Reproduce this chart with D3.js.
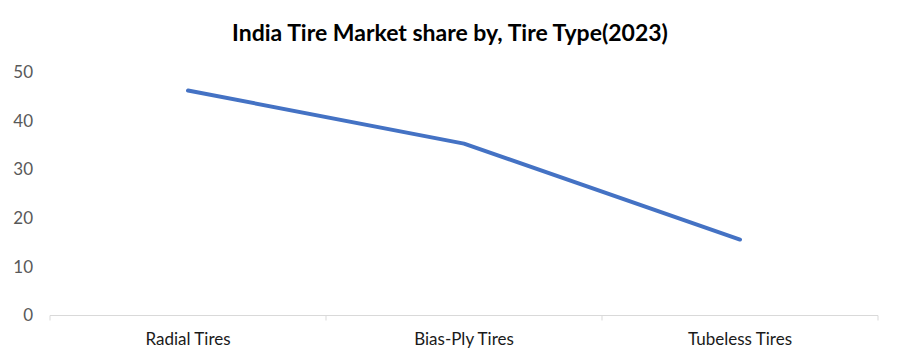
<!DOCTYPE html>
<html>
<head>
<meta charset="utf-8">
<script src="https://cdn.jsdelivr.net/npm/d3@7"></script>
<style>
  body { margin: 0; background: #fff; }
  svg { display: block; font-family: Lato, "Open Sans", sans-serif; }
</style>
</head>
<body>
<script>
const title = "India Tire Market share by, Tire Type(2023)";
const categories = ["Radial Tires", "Bias-Ply Tires", "Tubeless Tires"];
const shares = [46.2, 35.3, 15.6];
const yTicks = [0, 10, 20, 30, 40, 50];

const width = 900, height = 364;
const margin = { top: 72, right: 22, bottom: 48.5, left: 50 };

const svg = d3.select("body").append("svg")
    .attr("width", width)
    .attr("height", height);

const x = d3.scaleBand()
    .domain(categories)
    .range([margin.left, width - margin.right])
    .padding(0);

const y = d3.scaleLinear()
    .domain([0, 50])
    .range([height - margin.bottom, margin.top]);

svg.append("text")
    .attr("x", width / 2)
    .attr("y", 41)
    .attr("text-anchor", "middle")
    .attr("font-size", 23)
    .attr("font-weight", "bold")
    .attr("fill", "#000")
    .text(title);

// y tick labels (no axis line in the original)
svg.append("g")
    .selectAll("text")
    .data(yTicks)
    .join("text")
    .attr("x", 33)
    .attr("y", d => y(d))
    .attr("dy", "0.35em")
    .attr("text-anchor", "end")
    .attr("font-size", 17)
    .attr("fill", "#595959")
    .text(d => d);

// x axis
const xAxis = svg.append("g")
    .attr("transform", `translate(0,${y(0)})`);

xAxis.append("line")
    .attr("x1", margin.left)
    .attr("x2", width - margin.right)
    .attr("stroke", "#d9d9d9")
    .attr("stroke-width", 1);

const edges = categories.map(c => x(c)).concat([x(categories[categories.length - 1]) + x.bandwidth()]);
xAxis.selectAll("line.tick")
    .data(edges)
    .join("line")
    .attr("class", "tick")
    .attr("x1", d => d)
    .attr("x2", d => d)
    .attr("y1", 0)
    .attr("y2", 5)
    .attr("stroke", "#d9d9d9");

xAxis.selectAll("text")
    .data(categories)
    .join("text")
    .attr("x", d => x(d) + x.bandwidth() / 2)
    .attr("y", 29)
    .attr("text-anchor", "middle")
    .attr("font-size", 17)
    .attr("fill", "#1a1a1a")
    .text(d => d);

const line = d3.line()
    .x((d, i) => x(categories[i]) + x.bandwidth() / 2)
    .y(d => y(d));

svg.append("path")
    .datum(shares)
    .attr("d", line)
    .attr("fill", "none")
    .attr("stroke", "#4472c4")
    .attr("stroke-width", 4)
    .attr("stroke-linecap", "round")
    .attr("stroke-linejoin", "round");
</script>
</body>
</html>
